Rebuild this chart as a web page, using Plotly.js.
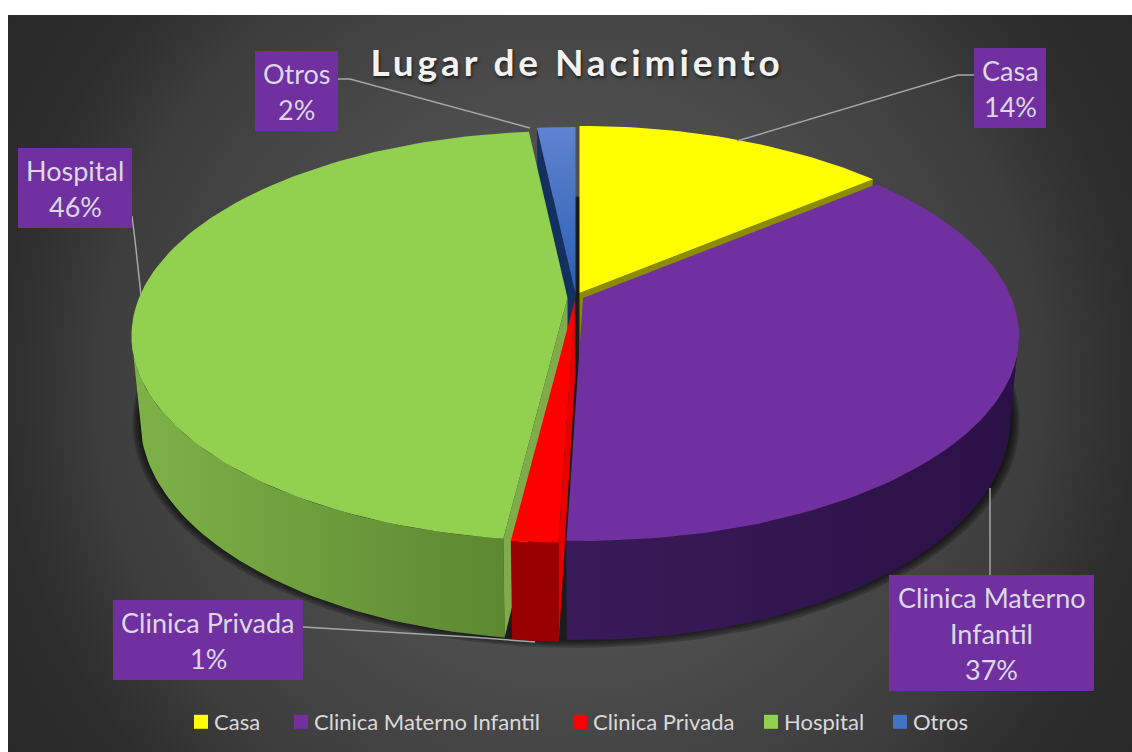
<!DOCTYPE html>
<html>
<head>
<meta charset="utf-8">
<script src="https://cdn.plot.ly/plotly-3.0.1.min.js"></script>
<style>
html,body{margin:0;padding:0;background:#fff;overflow:hidden;width:1132px;height:752px}
#bg{position:absolute;left:8px;top:15px;width:1124px;height:737px;
background:radial-gradient(circle 720px at 562px 370px,#5c5c5c 0px,#4d4d4d 270px,#3d3d3d 470px,#2d2d2d 570px,#282828 720px)}
#chart{position:absolute;left:0;top:0;width:1132px;height:752px}
.gtitle{letter-spacing:3.9px}
</style>
</head>
<body>
<div id="bg"></div>
<div id="chart"></div>
<script>
// ---- data ----
const categories = ["Casa","Clinica Materno Infantil","Clinica Privada","Hospital","Otros"];
const values = [13.9, 36.6, 1.45, 46.35, 1.7];
const topColors = ["#ffff00","#7030a0","#ff0000","#92d050","#4472c4"];

// ---- 3D-look projection of the pie ----
const K = 0.185;
const upper = {x0:578, y0:297, a:428.5, b:198};
const lower = {x0:578, y0:377, a:420, b:213.4};
const offsets = [[1.5,-4],[5,1],[-3,3],[-10.5,1],[-2.5,-3]];
const silhouetteR = 100.7, silhouetteL = 259.3; // where the side wall outline leaves the rim

function proj(ring, deg, off){
  const t = deg*Math.PI/180, X = Math.sin(t), Y = Math.cos(t), d = 1+K*Y;
  return [ring.x0+off[0]+ring.a*X/d, ring.y0+off[1]-ring.b*Y/d];
}
function arc(ring, d1, d2, off){
  const n = Math.max(2, Math.ceil(Math.abs(d2-d1)/1.5)), pts = [];
  for(let i=0;i<=n;i++) pts.push(proj(ring, d1+(d2-d1)*i/n, off));
  return pts;
}
function apex(ring, off){ return [ring.x0+off[0], ring.y0+off[1]]; }

const traces = [];
function poly(pts, color, extra){
  const xs = pts.map(p=>p[0]).concat(pts[0][0]), ys = pts.map(p=>p[1]).concat(pts[0][1]);
  traces.push(Object.assign({type:'scatter',mode:'lines',x:xs,y:ys,fill:'toself',fillcolor:color,
    line:{width:0,color:color},hoverinfo:'skip',showlegend:false},extra||{}));
}

// slice angle ranges from the values
const total = values.reduce((a,b)=>a+b,0);
const angles = []; let acc = 0;
values.forEach(v=>{ angles.push([acc/total*360,(acc+v)/total*360]); acc+=v; });

// soft shadow below the pie
[9,7,5,3,1].forEach(g=>{
  const ring = {x0:576, y0:lower.y0+g*0.4, a:lower.a+7+g, b:lower.b+g*0.5};
  poly(arc(ring,0,360,[0,0]),'rgba(0,0,0,0.2)');
});
poly(arc(lower,0,360,[0,0]),'#1c1c1c');

function wall(i, d1, d2, color1, color2){
  const o = offsets[i];
  const pts = arc(upper,d1,d2,o).concat(arc(lower,d2,d1,o));
  poly(pts,color1, color2 ? {fillgradient:{type:'horizontal',colorscale:[[0,color1],[1,color2]]}} : {});
}
function cut(i, deg, color){
  const o = offsets[i];
  poly([apex(upper,o),proj(upper,deg,o),proj(lower,deg,o),apex(lower,o)],color);
}
function topFace(i, extra){
  const [d1,d2] = angles[i], o = offsets[i];
  poly([apex(upper,o)].concat(arc(upper,d1,d2,o)),topColors[i],extra);
}
// painter's order, back to front
const [CASA,MATERNO,PRIVADA,HOSPITAL,OTROS] = [0,1,2,3,4];
cut(OTROS,angles[OTROS][0],'#14305f');
topFace(OTROS,{fillgradient:{type:'vertical',colorscale:[[0,'#2a5fb5'],[1,'#5f83cf']]}});
cut(CASA,angles[CASA][1],'#8c8c00');
topFace(CASA);
wall(HOSPITAL,angles[HOSPITAL][0],silhouetteL,'#7eb248','#5d8731');
cut(HOSPITAL,angles[HOSPITAL][0],'#7fab4a');
topFace(HOSPITAL);
wall(MATERNO,silhouetteR,angles[MATERNO][1],'#3a1a5a','#2a1145');
topFace(MATERNO);
wall(PRIVADA,angles[PRIVADA][0],angles[PRIVADA][1],'#990000');
cut(PRIVADA,angles[PRIVADA][0],'#e60000');
topFace(PRIVADA);

// leader lines
const leaders = [
  [[338,79],[350,79],[530,128]],
  [[974,75],[958,75],[737,141]],
  [[132,216],[135,240],[141,295]],
  [[990,488],[990,575]],
  [[303,627],[470,637],[535,642]]
];
leaders.forEach(l=>traces.push({type:'scatter',mode:'lines',x:l.map(p=>p[0]),y:l.map(p=>p[1]),
  line:{color:'#a6a6a6',width:1.5},hoverinfo:'skip',showlegend:false}));

// legend entries
categories.forEach((c,i)=>traces.push({type:'scatter',mode:'markers',x:[null],y:[null],name:c,
  marker:{symbol:'square',size:14,color:topColors[i]},hoverinfo:'skip',showlegend:true}));

// data labels
const pct = values.map(v=>Math.round(v/total*100)+'%');
const labelLines = [["Casa"],["Clinica Materno","Infantil"],["Clinica Privada"],["Hospital"],["Otros"]];
const boxes = [[974,48,1046,128],[889,575,1094,691],[113,600,303,680],[18,148,132,228],[255,51,338,131]];
const shapes = [], annotations = [];
boxes.forEach((b,i)=>{
  shapes.push({type:'rect',xref:'x',yref:'y',x0:b[0],x1:b[2],y0:b[1],y1:b[3],fillcolor:'#7030a0',line:{width:0},layer:'above'});
  const lines = labelLines[i].concat(pct[i]);
  const cy=(b[1]+b[3])/2, cx=(b[0]+b[2])/2;
  lines.forEach((t,j)=>annotations.push({xref:'x',yref:'y',x:cx,y:cy+(j-(lines.length-1)/2)*36,text:t,showarrow:false,
    xanchor:'center',yanchor:'middle',font:{family:'Lato',size:27,color:'#dcd8e4'}}));
});

const layout = {
  width:1132,height:752,margin:{l:0,r:0,t:0,b:0},
  paper_bgcolor:'rgba(0,0,0,0)',plot_bgcolor:'rgba(0,0,0,0)',
  title:{text:'Lugar de Nacimiento',x:577/1132,xanchor:'center',y:1-63/752,yanchor:'middle',
    font:{family:'Lato',size:37,color:'#f2f2f2',weight:700,shadow:'1px 2px 3px rgba(0,0,0,0.6)'}},
  xaxis:{range:[0,1132],visible:false,fixedrange:true},
  yaxis:{range:[752,0],visible:false,fixedrange:true},
  showlegend:true,
  legend:{orientation:'h',x:580/1132,xanchor:'center',y:1-722/752,yanchor:'middle',
    bgcolor:'rgba(0,0,0,0)',font:{family:'Lato',size:22,color:'#d9d9d9'},itemclick:false,itemdoubleclick:false},
  shapes:shapes,annotations:annotations
};

// tighter legend spacing, as in the reference
const legendMarkerLeft = [194,294,573,764,893];
const legendTextGap = 20;
Plotly.newPlot('chart',traces,layout,{displayModeBar:false,staticPlot:true}).then(gd=>{
  const box = gd.querySelector('.legend .scrollbox');
  if(box) box.removeAttribute('clip-path');
  const bg = gd.querySelector('.legend');
  if(bg) bg.removeAttribute('clip-path');
  gd.querySelectorAll('.legend .traces').forEach((el,i)=>{
    const pt = el.querySelector('.scatterpts');
    const m = /translate\(([-\d.]+)[, ]+([-\d.]+)\)/.exec(el.getAttribute('transform'));
    if(!pt || !m) return;
    const nx = +m[1] + legendMarkerLeft[i] - pt.getBoundingClientRect().left;
    el.setAttribute('transform','translate('+nx+','+m[2]+')');
    const t = el.querySelector('.legendtext');
    const dx = legendMarkerLeft[i] + legendTextGap - t.getBoundingClientRect().left;
    t.setAttribute('x', +t.getAttribute('x') + dx);
  });
});
</script>
</body>
</html>
